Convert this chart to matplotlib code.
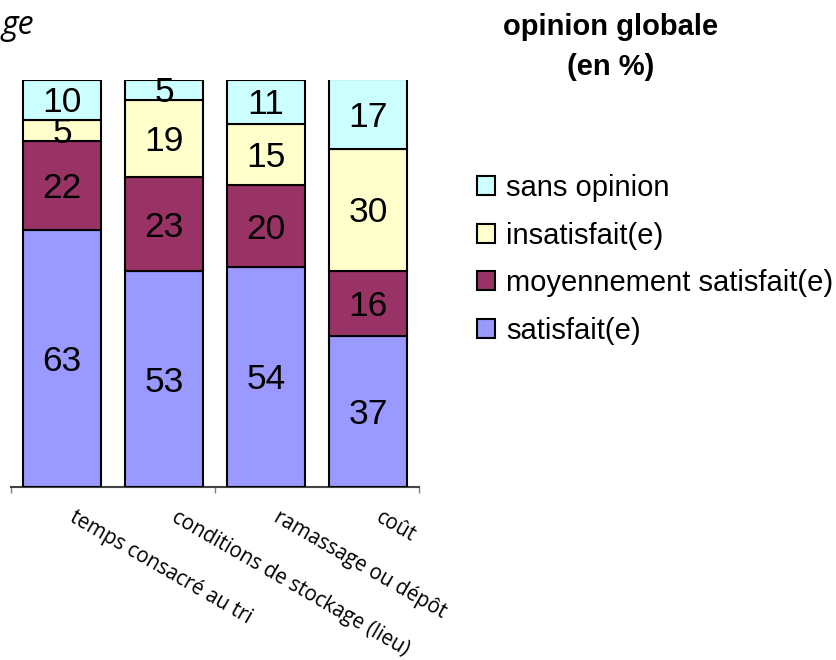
import matplotlib
matplotlib.use('Agg')
import matplotlib.pyplot as plt
from matplotlib.patches import Patch
import numpy as np

categories = ['temps consacré au tri', 'conditions de stockage (lieu)',
              'ramassage ou dépôt', 'coût']
series_names = ['satisfait(e)', 'moyennement satisfait(e)', 'insatisfait(e)', 'sans opinion']
satisfait = [63, 53, 54, 37]
moyennement = [22, 23, 20, 16]
insatisfait = [5, 19, 15, 30]
sans_opinion = [10, 5, 11, 17]
colors = ['#9999FF', '#993366', '#FFFFCC', '#CCFFFF']

W, H = 837, 660
fig = plt.figure(figsize=(W / 100, H / 100), dpi=100)


def fx(px):
    return px / W


def fy(py):
    return 1 - py / H


ax = fig.add_axes([fx(11), fy(487), fx(419) - fx(11), fy(79.5) - fy(487)])
x = np.arange(len(categories))
bottom = np.zeros(len(categories))
handles = []
for name, vals, col in zip(series_names, [satisfait, moyennement, insatisfait, sans_opinion], colors):
    bars = ax.bar(x, vals, width=78 / 102, bottom=bottom, color=col,
                  edgecolor='black', linewidth=1.5, zorder=3)
    for b, v, b0 in zip(bars, vals, bottom):
        ax.annotate(str(v), xy=(b.get_x() + b.get_width() / 2, b0 + v / 2),
                    xytext=(0, -3), textcoords='offset pixels',
                    ha='center', va='center', fontsize=25.5,
                    family='Liberation Sans', zorder=4)
    bottom += np.array(vals)
    handles.append(Patch(facecolor=col, edgecolor='black', linewidth=1.5, label=name))

ax.set_xlim(-0.5, len(categories) - 0.5)
ax.set_ylim(0, 100)
for side in ('left', 'right', 'top'):
    ax.spines[side].set_visible(False)
ax.spines['bottom'].set_color('#444444')
ax.spines['bottom'].set_linewidth(1.5)
ax.set_yticks([])
ax.set_xticks([-0.5, 1.5, 3.5])
ax.set_xticklabels([])
ax.tick_params(axis='x', direction='out', length=4.5, width=1, color='#808080')

for i, cat in enumerate(categories):
    ax.annotate(cat, xy=(i, 0), xycoords='data', xytext=(15, -20),
                textcoords='offset pixels', rotation=-30, rotation_mode='anchor',
                ha='left', va='top', fontsize=14.8, family='Open Sans')

# Legend, top entry first
fig.legend(handles=handles[::-1], loc='upper left',
           bbox_to_anchor=(fx(477), fy(174)), frameon=False,
           prop={'family': 'Liberation Sans', 'size': 21},
           handlelength=0.62, handleheight=0.62, handletextpad=0.38,
           labelspacing=0.67, borderpad=0, borderaxespad=0)

fig.text(fx(611), fy(27), 'opinion globale', ha='center', va='center',
         fontsize=21, fontweight='bold', family='Liberation Sans')
fig.text(fx(611), fy(67), '(en %)', ha='center', va='center',
         fontsize=21, fontweight='bold', family='Liberation Sans')

fig.text(fx(1), fy(34), 'ge', ha='left', va='baseline', fontsize=23,
         style='italic', family='Open Sans')

fig.savefig('out.png', dpi=100)
